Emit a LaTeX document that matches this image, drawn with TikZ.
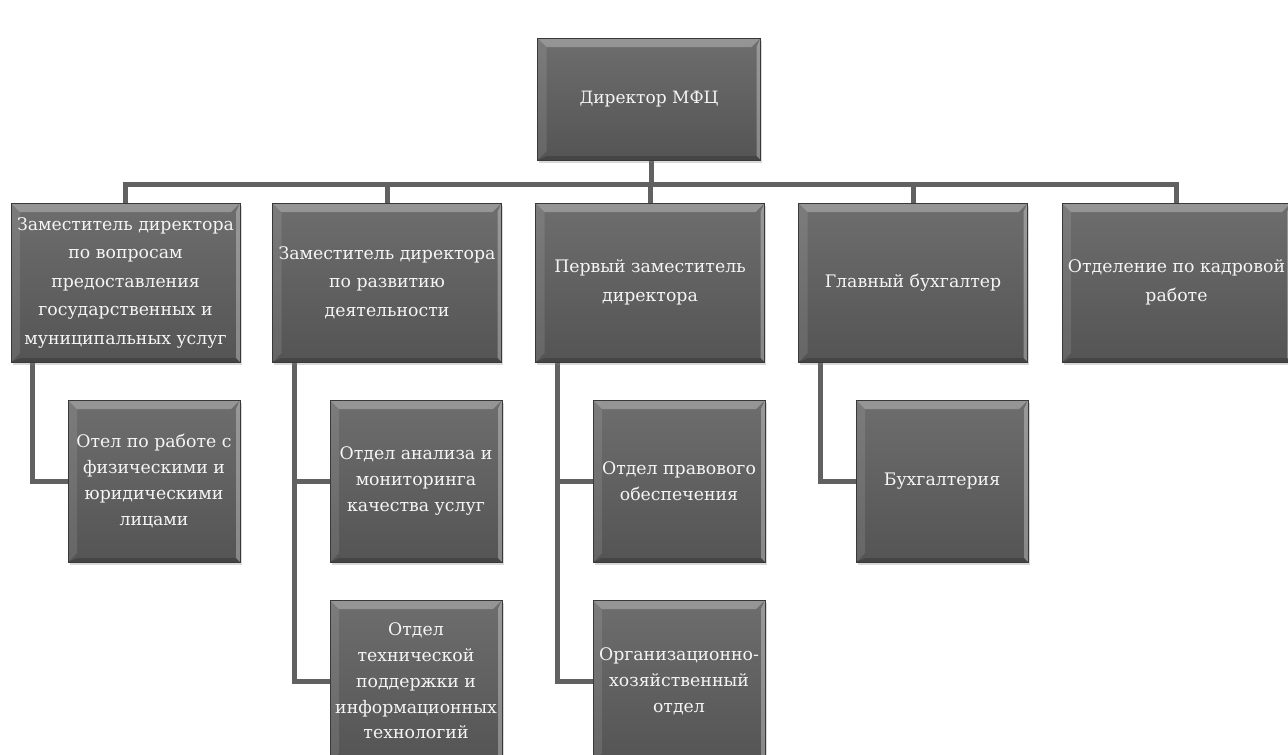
\documentclass[tikz,border=0pt]{standalone}
\usepackage{fontspec}
\setmainfont{DejaVu Serif}
\usetikzlibrary{shadows, backgrounds}

\begin{document}
\begin{tikzpicture}[x=1pt, y=-1pt,
    box/.style={draw=gray!45!black, line width=0.6pt, top color=black!57, bottom color=black!67,
        text=white!96!black, align=center, inner sep=0pt,
        font=\fontsize{17}{24.5}\selectfont,
        drop shadow={shadow xshift=1.5pt, shadow yshift=-3pt, opacity=.3},
        path picture={
            \fill[white, opacity=.28] (path picture bounding box.north west) -- (path picture bounding box.north east)
                -- ([xshift=-9pt, yshift=-9pt]path picture bounding box.north east)
                -- ([xshift=9pt, yshift=-9pt]path picture bounding box.north west) -- cycle;
            \fill[white, opacity=.10] (path picture bounding box.north west) -- ([xshift=9pt, yshift=-9pt]path picture bounding box.north west)
                -- ([xshift=9pt, yshift=9pt]path picture bounding box.south west) -- (path picture bounding box.south west) -- cycle;
            \fill[white, opacity=.30] (path picture bounding box.north east) -- ([xshift=-4pt, yshift=-9pt]path picture bounding box.north east)
                -- ([xshift=-4pt, yshift=4pt]path picture bounding box.south east) -- (path picture bounding box.south east) -- cycle;
            \fill[black, opacity=.18] (path picture bounding box.south west) -- ([xshift=9pt, yshift=4pt]path picture bounding box.south west)
                -- ([xshift=-4pt, yshift=4pt]path picture bounding box.south east) -- (path picture bounding box.south east) -- cycle;
        }},
    top/.style={box, minimum width=223pt, minimum height=122pt},
    head/.style={box, minimum width=229pt, minimum height=159pt, font=\fontsize{17.3}{28.5}\selectfont},
    dept/.style={box, minimum width=172pt, minimum height=162pt, font=\fontsize{17.3}{25.8}\selectfont},
    conn/.style={draw=black!62, line width=5pt}]

    \useasboundingbox (0,0) rectangle (1288,755);
    \clip (0,0) rectangle (1288,755);

    % Director
    \node[top] (dir) at (649,99) {Директор МФЦ};
    \coordinate (bus) at (651,184);

    % Deputies and heads
    \node[head] (z1) at (125.5,282.5) {Заместитель директора\\по вопросам\\предоставления\\государственных и\\муниципальных услуг};
    \node[head] (z2) at (387,282.5) {Заместитель директора\\по развитию\\деятельности};
    \node[head] (z3) at (650,282.5) {Первый заместитель\\директора};
    \node[head] (z4) at (913,282.5) {Главный бухгалтер};
    \node[head] (z5) at (1176.5,282.5) {Отделение по кадровой\\работе};

    % Departments
    \node[dept] (o1) at (154,481) {Отел по работе с\\физическими и\\юридическими\\лицами};
    \node[dept] (o2) at (416,481) {Отдел анализа и\\мониторинга\\качества услуг};
    \node[dept] (o3) at (416,681) {Отдел\\технической\\поддержки и\\информационных\\технологий};
    \node[dept] (o4) at (679,481) {Отдел правового\\обеспечения};
    \node[dept] (o5) at (679,681) {Организационно-\\хозяйственный\\отдел};
    \node[dept] (o6) at (942,481) {Бухгалтерия};

    % Connectors
    \begin{scope}[on background layer]
    \draw[conn] (dir.south -| bus) -- (bus);
    \foreach \n in {z1,z2,z3,z4,z5}
        \draw[conn] (bus) -| (\n.north);
    \draw[conn] ([xshift=22pt]z1.south west) |- (o1.west);
    \draw[conn] ([xshift=22pt]z2.south west) |- (o2.west);
    \draw[conn] ([xshift=22pt]z2.south west) |- (o3.west);
    \draw[conn] ([xshift=22pt]z3.south west) |- (o4.west);
    \draw[conn] ([xshift=22pt]z3.south west) |- (o5.west);
    \draw[conn] ([xshift=22pt]z4.south west) |- (o6.west);
    \end{scope}
\end{tikzpicture}
\end{document}
